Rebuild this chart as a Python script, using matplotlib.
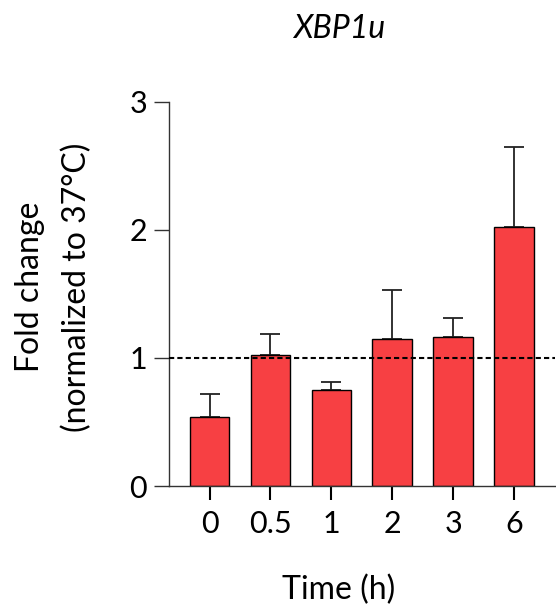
import matplotlib
matplotlib.use('Agg')
import matplotlib.pyplot as plt
import numpy as np

plt.rcParams['font.family'] = ['Lato', 'DejaVu Sans']

# data
times = ['0', '0.5', '1', '2', '3', '6']
fold = [0.54, 1.02, 0.75, 1.15, 1.16, 2.02]
err_up = [0.18, 0.17, 0.06, 0.38, 0.15, 0.63]

bar_color = '#F74043'

fig = plt.figure(figsize=(5.56, 6.06), dpi=100)
ax = fig.add_axes([0.3045, 0.198, 0.6935, 0.634])

x = np.arange(len(times))
ax.bar(x, fold, width=0.65, color=bar_color, edgecolor='black', linewidth=1.0, zorder=2)
ax.errorbar(x, fold, yerr=[np.zeros(len(fold)), err_up], fmt='none',
            ecolor='#222222', elinewidth=1.3, capsize=7, capthick=1.3, zorder=1)

# reference line at 1
ax.axhline(1, color='black', linestyle=(0, (2.5, 1.5)), linewidth=1.5, zorder=3)

ax.set_xlim(-0.66, 5.67)
ax.set_ylim(0, 3)
ax.set_yticks([0, 1, 2, 3])
ax.set_xticks(x)
ax.set_xticklabels(times)

for s in ['top', 'right']:
    ax.spines[s].set_visible(False)
for s in ['left', 'bottom']:
    ax.spines[s].set_linewidth(1.0)
    ax.spines[s].set_color('#333333')

ax.tick_params(axis='y', length=11, width=1.0, color='#333333', labelsize=22, pad=5)
ax.tick_params(axis='x', length=10, width=1.5, color='black', labelsize=22, pad=7)

fs = 23
fig.text(339/556, 1 - 38/606, 'XBP1u', fontsize=fs, style='italic', ha='center', va='baseline')
fig.text(339/556, 1 - 599/606, 'Time (h)', fontsize=fs, ha='center', va='baseline')
fig.text(30/556, 1 - 287/606, 'Fold change', fontsize=fs, rotation=90, ha='center', va='center')
fig.text(77/556, 1 - 287/606, '(normalized to 37°C)', fontsize=fs, rotation=90, ha='center', va='center')

fig.savefig('out.png', dpi=100)
